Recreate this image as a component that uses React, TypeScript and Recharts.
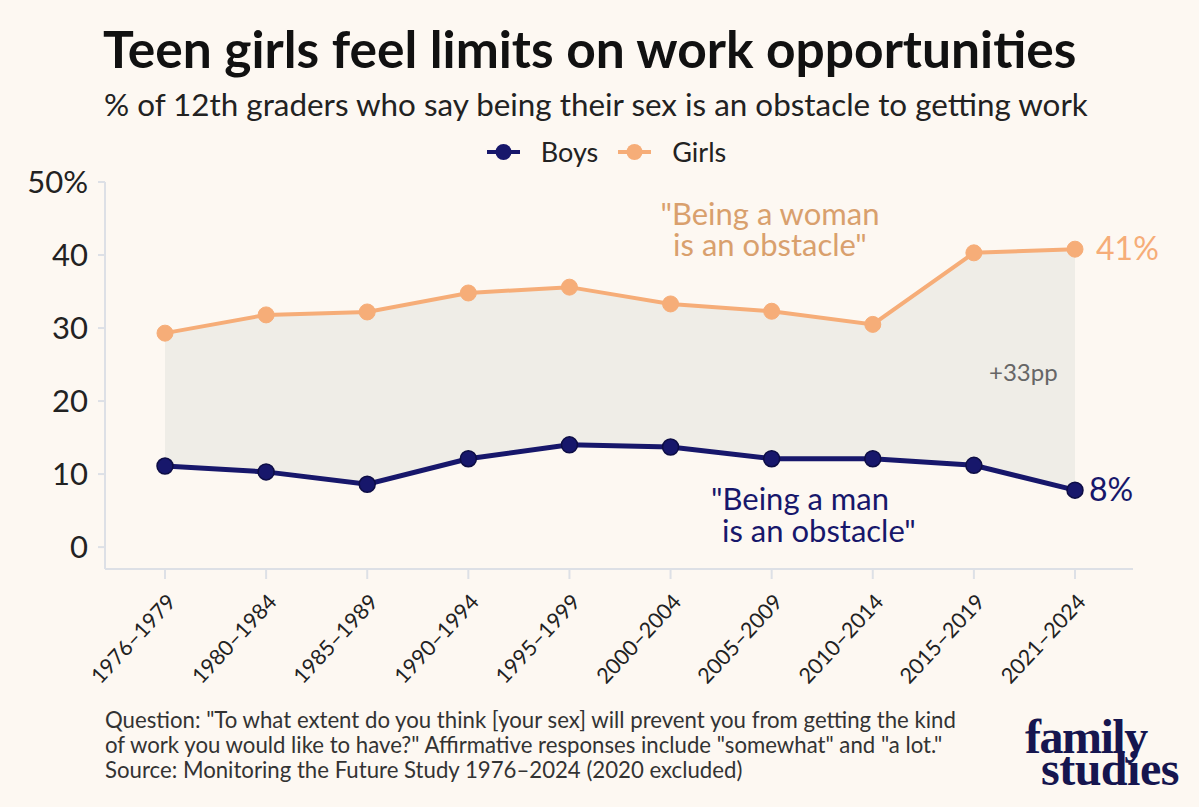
import React from "react";
import { Area, ComposedChart, Legend, LabelList, Line, XAxis, YAxis } from "recharts";

const periods = [
  "1976–1979",
  "1980–1984",
  "1985–1989",
  "1990–1994",
  "1995–1999",
  "2000–2004",
  "2005–2009",
  "2010–2014",
  "2015–2019",
  "2021–2024",
];
const boys = [11.1, 10.3, 8.6, 12.1, 14.0, 13.7, 12.1, 12.1, 11.2, 7.8];
const girls = [29.3, 31.8, 32.2, 34.8, 35.6, 33.3, 32.3, 30.5, 40.3, 40.8];
const yTicks = [0, 10, 20, 30, 40, 50];

const BOYS_COLOR = "#17176b";
const GIRLS_COLOR = "#f6ad78";
const BG = "#fdf8f2";
const FONT = "Lato, 'Noto Sans', sans-serif";
const LOGO_FONT = "'Liberation Serif', 'DejaVu Serif', serif";

const data = periods.map((period, i) => ({
  period,
  boys: boys[i],
  girls: girls[i],
  gap: [boys[i], girls[i]],
}));

const lastIndex = periods.length - 1;

function XTick(props: any) {
  const { x, y, payload } = props;
  return (
    <g transform={`translate(${x + 12},${y + 22})`}>
      <text textAnchor="end" transform="rotate(-47)" fontSize={21.5} fill="#222" fontFamily={FONT}>
        {payload.value}
      </text>
    </g>
  );
}

function YTick(props: any) {
  const { x, y, payload } = props;
  return (
    <text x={x} y={y} dy={11} textAnchor="end" fontSize={31} fill="#222" fontFamily={FONT}>
      {payload.value === 50 ? "50%" : payload.value}
    </text>
  );
}

function endLabel(color: string, dx: number) {
  return (props: any) => {
    const { x, y, index, value } = props;
    if (index !== lastIndex) return null;
    return (
      <text x={x + dx} y={y} dy={11} fontSize={32} fill={color} fontFamily={FONT}>
        {Math.round(value)}%
      </text>
    );
  };
}

function LegendContent() {
  const items = [
    { label: "Boys", color: BOYS_COLOR },
    { label: "Girls", color: GIRLS_COLOR },
  ];
  return (
    <div style={{ display: "flex", justifyContent: "center", gap: 20, fontFamily: FONT, fontSize: 27, color: "#222", paddingLeft: 14 }}>
      {items.map((it) => (
        <div key={it.label} style={{ display: "flex", alignItems: "center", gap: 21 }}>
          <svg width={33} height={20}>
            <line x1={0} y1={10} x2={33} y2={10} stroke={it.color} strokeWidth={4} />
            <circle cx={16.5} cy={10} r={8} fill={it.color} />
          </svg>
          <span>{it.label}</span>
        </div>
      ))}
    </div>
  );
}

export default function App() {
  return (
    <div style={{ position: "absolute", left: 0, top: 0, width: 1199, height: 807, background: BG, overflow: "hidden", fontFamily: FONT }}>
      <div style={{ position: "absolute", left: 103, top: 17, fontSize: 51.5, fontWeight: 700, color: "#111", whiteSpace: "nowrap" }}>
        Teen girls feel limits on work opportunities
      </div>
      <div style={{ position: "absolute", left: 104, top: 85, fontSize: 31.4, color: "#222", whiteSpace: "nowrap" }}>
        % of 12th graders who say being their sex is an obstacle to getting work
      </div>

      <div style={{ position: "absolute", left: 0, top: 0 }}>
        <ComposedChart width={1199} height={700} data={data} margin={{ top: 182, right: 66, bottom: 21, left: 45 }}>
          <Legend verticalAlign="middle" content={<LegendContent />} wrapperStyle={{ top: 135, left: 0, width: 1199 }} />
          <XAxis
            dataKey="period"
            height={110}
            padding={{ left: 60, right: 58 }}
            interval={0}
            stroke="#dde0e6"
            strokeWidth={2}
            tickSize={10}
            tickLine={{ stroke: "#dde0e6" }}
            tick={<XTick />}
          />
          <YAxis
            domain={[-3, 50]}
            ticks={yTicks}
            width={60}
            stroke="#dde0e6"
            strokeWidth={2}
            tickSize={7}
            tickMargin={10}
            tick={<YTick />}
          />
          <Area
            dataKey="gap"
            type="linear"
            stroke="none"
            fill="#efede7"
            fillOpacity={1}
            isAnimationActive={false}
            legendType="none"
            activeDot={false}
          />
          <Line
            dataKey="girls"
            name="Girls"
            type="linear"
            stroke={GIRLS_COLOR}
            strokeWidth={4}
            dot={{ r: 8, fill: GIRLS_COLOR, stroke: GIRLS_COLOR, strokeWidth: 1 }}
            isAnimationActive={false}
          >
            <LabelList dataKey="girls" content={endLabel(GIRLS_COLOR, 21)} />
          </Line>
          <Line
            dataKey="boys"
            name="Boys"
            type="linear"
            stroke={BOYS_COLOR}
            strokeWidth={5}
            dot={{ r: 8, fill: BOYS_COLOR, stroke: "#0d0d45", strokeWidth: 1.5 }}
            isAnimationActive={false}
          >
            <LabelList dataKey="boys" content={endLabel(BOYS_COLOR, 14)} />
          </Line>
        </ComposedChart>
      </div>

      <div style={{ position: "absolute", left: 570, top: 198, width: 400, textAlign: "center", fontSize: 31, lineHeight: "31px", color: "#d9a06d", whiteSpace: "nowrap" }}>
        "Being a woman
      </div>
      <div style={{ position: "absolute", left: 570, top: 229, width: 400, textAlign: "center", fontSize: 31, lineHeight: "31px", color: "#d9a06d", whiteSpace: "nowrap" }}>
        is an obstacle"
      </div>
      <div style={{ position: "absolute", left: 711, top: 483, fontSize: 31, lineHeight: "31px", color: BOYS_COLOR, whiteSpace: "nowrap" }}>
        "Being a man
      </div>
      <div style={{ position: "absolute", left: 722, top: 515, fontSize: 31, lineHeight: "31px", color: BOYS_COLOR, whiteSpace: "nowrap" }}>
        is an obstacle"
      </div>
      <div style={{ position: "absolute", left: 989, top: 357, fontSize: 24, color: "#666" }}>+33pp</div>

      <div style={{ position: "absolute", left: 105, top: 707, fontSize: 22.2, lineHeight: "25px", color: "#333", whiteSpace: "nowrap" }}>
        Question: "To what extent do you think [your sex] will prevent you from getting the kind
        <br />
        of work you would like to have?" Affirmative responses include "somewhat" and "a lot."
        <br />
        Source: Monitoring the Future Study 1976–2024 (2020 excluded)
      </div>
      <div
        style={{
          position: "absolute",
          left: 1025,
          top: 721,
          fontFamily: LOGO_FONT,
          fontWeight: 700,
          fontSize: 48,
          lineHeight: "31px",
          color: "#16164f",
          letterSpacing: -1.5,
          whiteSpace: "nowrap",
        }}
      >
        family
      </div>
      <div
        style={{
          position: "absolute",
          left: 1041,
          top: 753,
          fontFamily: LOGO_FONT,
          fontWeight: 700,
          fontSize: 48,
          lineHeight: "31px",
          color: "#16164f",
          letterSpacing: -0.5,
          whiteSpace: "nowrap",
        }}
      >
        studies
      </div>
    </div>
  );
}
